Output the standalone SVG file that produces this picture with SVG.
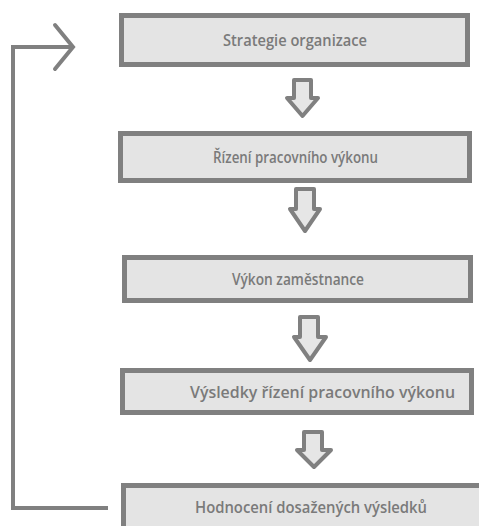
<svg xmlns="http://www.w3.org/2000/svg" width="479" height="526" viewBox="0 0 479 526">
<style>
.box{fill:#e4e4e4;stroke:#808080;stroke-width:5}
.lbl{font-family:"Open Sans","Lato","Liberation Sans",sans-serif;font-size:17px;font-weight:600;fill:#7a7a7a;text-anchor:middle}
.arr{fill:#e6e6e6;stroke:#808080;stroke-width:4;stroke-linejoin:round}
.con{fill:none;stroke:#808080;stroke-width:4;stroke-linejoin:miter}
</style>
<rect width="479" height="526" fill="#ffffff"/>
<g id="connectors">
<path class="con" d="M108,508 H13 V47 H72"/>
<polyline class="con" points="55,25 73,47 55,69" stroke-linecap="round"/>
<path class="arr" d="M294,80 H311 V98 H318 L302.5,116 L287,98 H294 Z"/>
<path class="arr" d="M296,189 H314 V209 H320 L305,231 L290,209 H296 Z"/>
<path class="arr" d="M300,317 H318 V337 H326 L310,360 L294,337 H300 Z"/>
<path class="arr" d="M304,432 H322 V450 H331 L314,467 L297,450 H304 Z"/>
</g>
<g id="n1">
<rect class="box" x="121.5" y="15.5" width="346" height="49"/>
<text class="lbl" x="295" y="46" textLength="144" lengthAdjust="spacingAndGlyphs">Strategie organizace</text>
</g>
<g id="n2">
<rect class="box" x="120.5" y="133.5" width="349" height="47"/>
<text class="lbl" x="295.5" y="163" textLength="165" lengthAdjust="spacingAndGlyphs">Řízení pracovního výkonu</text>
</g>
<g id="n3">
<rect class="box" x="124.5" y="257.5" width="346" height="43"/>
<text class="lbl" x="298" y="285" textLength="132" lengthAdjust="spacingAndGlyphs">Výkon zaměstnance</text>
</g>
<g id="n4">
<rect class="box" x="122.5" y="370.5" width="349" height="42"/>
<text class="lbl" x="322.5" y="398" textLength="265" lengthAdjust="spacingAndGlyphs">Výsledky řízení pracovního výkonu</text>
</g>
<g id="n5">
<rect class="box" x="123.5" y="485.5" width="400" height="60"/>
<text class="lbl" x="311" y="513" textLength="232" lengthAdjust="spacingAndGlyphs">Hodnocení dosažených výsledků</text>
</g>
</svg>
